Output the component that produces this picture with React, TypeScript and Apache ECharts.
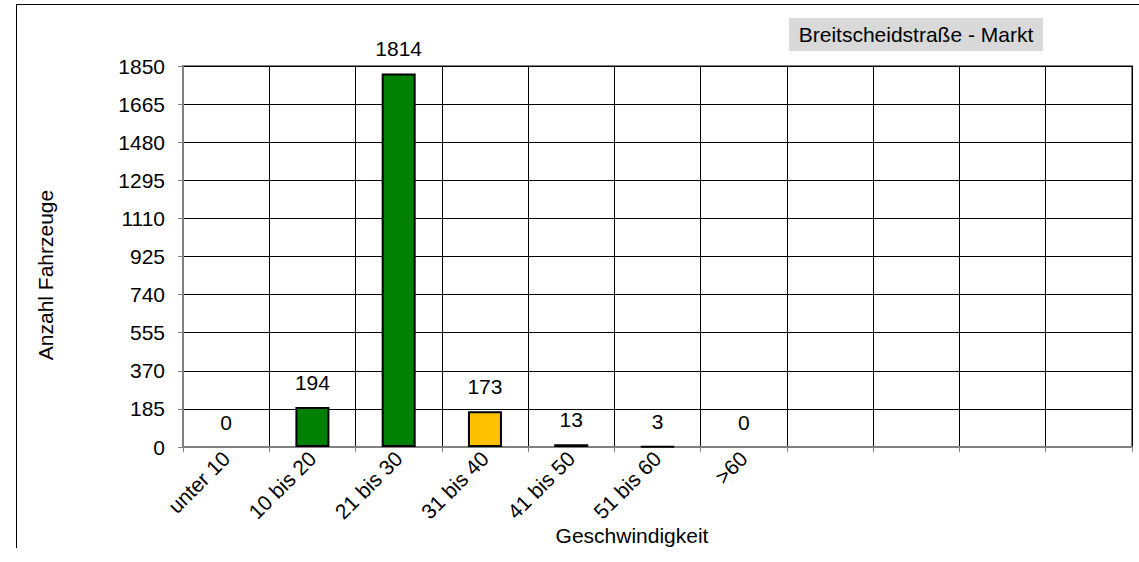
import React, { useEffect, useRef } from "react";
import * as echarts from "echarts";

const categories = ["unter 10", "10 bis 20", "21 bis 30", "31 bis 40", "41 bis 50", "51 bis 60", ">60", "", "", "", ""];
const values: (number | null)[] = [0, 194, 1814, 173, 13, 3, 0, null, null, null, null];
const barColors = ["#008000", "#008000", "#008000", "#FFC000", "#000000", "#000000", "#000000", "#000000", "#000000", "#000000", "#000000"];
const yMax = 1850;
const yInterval = 185;
const title = "Breitscheidstraße - Markt";
const xTitle = "Geschwindigkeit";
const yTitle = "Anzahl Fahrzeuge";

const FONT = "Arial, 'Liberation Sans', sans-serif";
const FS = 21;

export default function App() {
  const ref = useRef<HTMLDivElement>(null);
  useEffect(() => {
    document.body.style.margin = "0";
    const chart = echarts.init(ref.current!, null, { renderer: "svg" });
    chart.setOption({
      animation: false,
      backgroundColor: "#ffffff",
      textStyle: { fontFamily: FONT },
      grid: {
        left: 183,
        top: 66,
        width: 949,
        height: 381,
        show: true,
        borderColor: "#808080",
        borderWidth: 2,
        containLabel: false,
      },
      xAxis: {
        type: "category",
        data: categories,
        boundaryGap: true,
        axisLine: { show: true, lineStyle: { color: "#808080", width: 2 } },
        axisTick: { show: true, alignWithLabel: false, length: 5, lineStyle: { color: "#808080", width: 1 } },
        axisLabel: { rotate: 45, fontSize: FS, color: "#000", margin: 8, fontFamily: FONT, interval: 0 },
        splitLine: { show: true, interval: 0, lineStyle: { color: "#000", width: 1 } },
      },
      yAxis: {
        type: "value",
        min: 0,
        max: yMax,
        interval: yInterval,
        axisLine: { show: true, lineStyle: { color: "#808080", width: 2 } },
        axisTick: { show: true, length: 5, lineStyle: { color: "#808080" } },
        axisLabel: { fontSize: FS, color: "#000", margin: 18, fontFamily: FONT, formatter: (v: number) => String(v) },
        splitLine: { show: true, lineStyle: { color: "#000", width: 1 } },
      },
      series: [
        {
          type: "bar",
          barWidth: 34,
          data: values.map((v, i) => ({
            value: v,
            itemStyle: v
              ? { color: barColors[i], borderColor: "#000", borderWidth: 2 }
              : { color: "rgba(0,0,0,0)", borderColor: "rgba(0,0,0,0)", borderWidth: 0 },
          })),
          label: {
            show: true,
            position: "top",
            distance: 14,
            fontSize: FS,
            color: "#000",
            fontFamily: FONT,
          },
        },
      ],
      graphic: [
        { type: "line", shape: { x1: 16, y1: 4.5, x2: 1139, y2: 4.5 }, style: { stroke: "#000", lineWidth: 1 } },
        { type: "line", shape: { x1: 16.5, y1: 4, x2: 16.5, y2: 548 }, style: { stroke: "#000", lineWidth: 1 } },
        { type: "rect", shape: { x: 789, y: 18, width: 254, height: 33 }, style: { fill: "#D9D9D9" } },
        {
          type: "text",
          x: 916,
          y: 34.5,
          style: { text: title, fill: "#000", font: `${FS}px ${FONT}`, align: "center", verticalAlign: "middle" },
        },
        {
          type: "text",
          x: 632,
          y: 535,
          style: { text: xTitle, fill: "#000", font: `${FS}px ${FONT}`, align: "center", verticalAlign: "middle" },
        },
        {
          type: "text",
          x: 45,
          y: 275,
          rotation: Math.PI / 2,
          style: { text: yTitle, fill: "#000", font: `${FS}px ${FONT}`, align: "center", verticalAlign: "middle" },
        },
      ],
    });
    return () => chart.dispose();
  }, []);
  return <div ref={ref} style={{ width: 1139, height: 562 }} />;
}
